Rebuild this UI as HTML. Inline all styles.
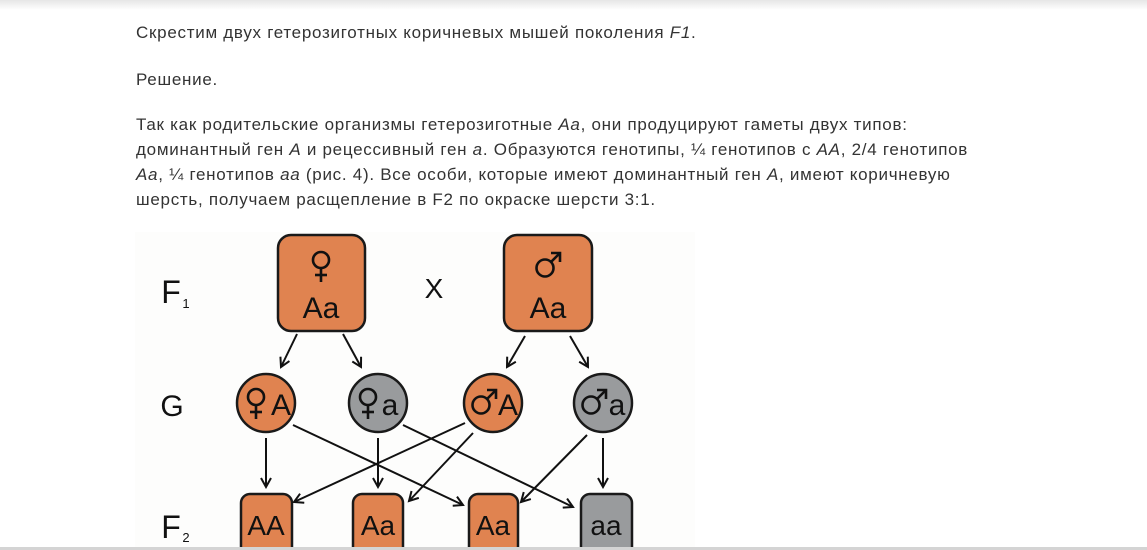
<!DOCTYPE html>
<html><head><meta charset="utf-8"><style>
html,body{margin:0;padding:0;width:1147px;height:550px;overflow:hidden;background:#fff;}
.top{position:absolute;left:0;top:0;width:1147px;height:10px;background:linear-gradient(#e6e6e6,#fff);}
.bot{position:absolute;left:0;top:547px;width:1147px;height:3px;background:#d4d4d4;}
.t{position:absolute;left:136px;font-family:"Liberation Sans",sans-serif;font-size:17px;letter-spacing:0.72px;color:#333;white-space:nowrap;line-height:20px;}
i{font-style:italic;}
svg{position:absolute;left:0;top:0;}
</style></head><body>
<div class="top"></div>
<div class="t" style="top:23px">Скрестим двух гетерозиготных коричневых мышей поколения <i>F1</i>.</div>
<div class="t" style="top:70px">Решение.</div>
<div class="t" style="top:115px">Так как родительские организмы гетерозиготные <i>Aa</i>, они продуцируют гаметы двух типов:</div>
<div class="t" style="top:140px">доминантный ген <i>A</i> и рецессивный ген <i>a</i>. Образуются генотипы, ¼ генотипов с <i>AA</i>, 2/4 генотипов</div>
<div class="t" style="top:165px"><i>Aa</i>, ¼ генотипов <i>aa</i> (рис. 4). Все особи, которые имеют доминантный ген <i>A</i>, имеют коричневую</div>
<div class="t" style="top:190px">шерсть, получаем расщепление в F2 по окраске шерсти 3:1.</div>
<svg width="1147" height="550" font-family="Liberation Sans, sans-serif">
<defs><marker id="a" markerWidth="12" markerHeight="12" refX="10" refY="6" orient="auto" markerUnits="userSpaceOnUse"><path d="M1,1 L10,6 L1,11" fill="none" stroke="#111" stroke-width="2"/></marker>
<g id="fem" fill="none" stroke="#111" stroke-width="2.6"><circle cx="0" cy="0" r="8"/><line x1="0" y1="8" x2="0" y2="22"/><line x1="-6" y1="15" x2="6" y2="15"/></g>
<g id="mal" fill="none" stroke="#111" stroke-width="2.6"><circle cx="0" cy="0" r="8.5"/><line x1="6" y1="-6" x2="14" y2="-14"/><path d="M6,-15 L15,-15 L15,-6"/></g>
</defs>
<rect x="135" y="232" width="560" height="315" fill="#fdfdfc"/>
<g stroke="#1a1a1a" stroke-width="2.5">
<rect x="278" y="235" width="87" height="96" rx="13" fill="#e08350"/>
<rect x="504" y="235" width="88" height="96" rx="13" fill="#e08350"/>
<circle cx="266" cy="403" r="29" fill="#e08350"/>
<circle cx="378" cy="403" r="29" fill="#999b9d"/>
<circle cx="493" cy="403" r="29" fill="#e08350"/>
<circle cx="603" cy="403" r="29" fill="#999b9d"/>
<rect x="241" y="494" width="51" height="70" rx="9" fill="#e08350"/>
<rect x="353" y="494" width="50" height="70" rx="9" fill="#e08350"/>
<rect x="469" y="494" width="49" height="70" rx="9" fill="#e08350"/>
<rect x="581" y="494" width="51" height="70" rx="9" fill="#999b9d"/>
</g>
<use href="#fem" x="321" y="260"/>
<use href="#mal" x="545" y="268"/>
<use href="#fem" x="256" y="397"/>
<use href="#fem" x="368" y="397"/>
<use href="#mal" x="481" y="405"/>
<use href="#mal" x="591" y="405"/>
<g stroke="#111" stroke-width="2" fill="none" marker-end="url(#a)">
<line x1="297" y1="334" x2="281" y2="367"/>
<line x1="343" y1="334" x2="361" y2="367"/>
<line x1="525" y1="336" x2="507" y2="367"/>
<line x1="570" y1="336" x2="588" y2="367"/>
<line x1="266" y1="438" x2="266" y2="487"/>
<line x1="378" y1="438" x2="378" y2="487"/>
<line x1="603" y1="438" x2="603" y2="487"/>
<line x1="293" y1="425" x2="463" y2="505"/>
<line x1="403" y1="425" x2="573" y2="507"/>
<line x1="465" y1="423" x2="294" y2="502"/>
<line x1="473" y1="433" x2="409" y2="501"/>
<line x1="587" y1="435" x2="521" y2="502"/>
</g>
<g fill="#111" text-anchor="middle">
<text x="171" y="303" font-size="32">F</text><text x="186" y="308" font-size="13">1</text>
<text x="434" y="298" font-size="28">X</text>
<text x="172" y="416" font-size="30">G</text>
<text x="171" y="538" font-size="32">F</text><text x="186" y="542" font-size="13">2</text>
<text x="321" y="318" font-size="30">Aa</text>
<text x="548" y="318" font-size="30">Aa</text>
<text x="281" y="415" font-size="30">A</text>
<text x="390" y="415" font-size="30">a</text>
<text x="508" y="415" font-size="30">A</text>
<text x="617" y="415" font-size="30">a</text>
<text x="266" y="535" font-size="28">AA</text>
<text x="378" y="535" font-size="28">Aa</text>
<text x="493" y="535" font-size="28">Aa</text>
<text x="606" y="535" font-size="28">aa</text>
</g>
</svg>
<div class="bot"></div>
</body></html>
